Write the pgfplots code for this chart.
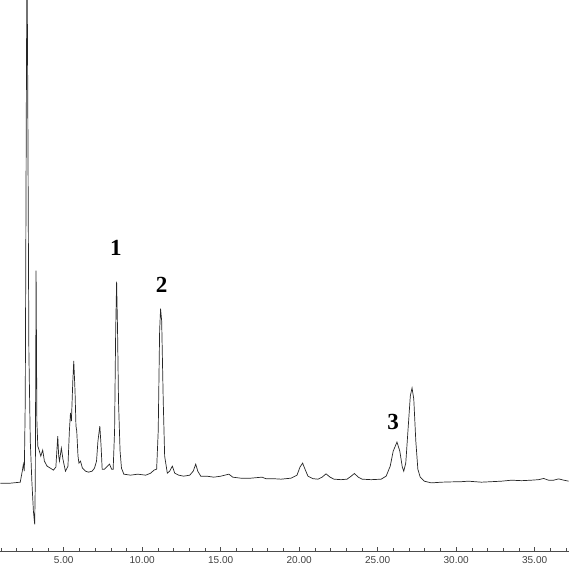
\documentclass[border=0pt]{standalone}
\usepackage{pgfplots}
\pgfplotsset{compat=1.18}
\usepackage{fontspec}
\setmainfont{Liberation Sans}
\newfontfamily\peakfont{Liberation Serif}

\begin{document}
\begin{tikzpicture}
\begin{axis}[
    width=567pt, height=550pt,
    scale only axis,
    xmin=0.96, xmax=37.17,
    ymin=0, ymax=550,
    axis x line=bottom,
    axis y line=none,
    x axis line style={-, black!70, line width=0.6pt},
    xtick={5,10,...,35},
    minor xtick={1,2,...,37},
    tick align=inside,
    major tick length=4pt,
    minor tick length=3pt,
    every tick/.style={black!70, line width=0.6pt},
    xticklabel style={font=\fontsize{10}{10}\selectfont, text=black!75, yshift=-2pt},
    x tick label style={/pgf/number format/fixed, /pgf/number format/fixed zerofill, /pgf/number format/precision=2},
    /pgf/number format/assume math mode=true,
]
\addplot[black!85, line width=0.7pt] coordinates {
    (0.96,68) (1.60,68) (2.23,69) (2.36,80) (2.43,87) (2.49,80)
    (2.55,150) (2.62,450) (2.66,610) (2.71,450) (2.78,200) (2.87,110)
    (2.97,70) (3.07,40) (3.15,27) (3.19,70) (3.24,280) (3.29,130)
    (3.35,105) (3.45,100) (3.54,95) (3.66,101) (3.77,90) (3.94,85)
    (4.15,83) (4.34,81) (4.50,84) (4.62,115) (4.68,95) (4.73,90)
    (4.85,103) (4.95,92) (5.11,80) (5.27,85) (5.36,120) (5.43,138)
    (5.49,130) (5.58,170) (5.64,190) (5.72,160) (5.78,125) (5.83,120)
    (5.91,95) (5.97,88) (6.07,90) (6.19,83) (6.39,80) (6.58,79)
    (6.81,80) (6.96,83) (7.09,90) (7.18,110) (7.30,125) (7.38,105)
    (7.45,82) (7.60,82) (7.79,85) (7.92,87) (8.05,82) (8.15,82)
    (8.24,120) (8.31,220) (8.37,269) (8.43,220) (8.49,150) (8.59,100)
    (8.68,83) (8.83,77) (9.26,76) (9.71,77) (10.22,76) (10.54,78)
    (10.75,81) (10.92,82) (11.02,120) (11.11,220) (11.17,242) (11.24,230)
    (11.34,150) (11.43,95) (11.60,78) (11.75,80) (11.92,85) (12.07,78)
    (12.33,76) (12.64,75) (13.03,76) (13.25,80) (13.41,87) (13.54,80)
    (13.73,75) (14.11,75) (14.56,74) (15.01,75) (15.52,77) (15.77,74)
    (16.28,73) (16.92,73) (17.63,74) (17.88,72.5) (18.33,72.5) (18.84,72)
    (19.48,73) (19.86,76) (20.05,84) (20.22,88) (20.37,82) (20.56,75)
    (20.88,72.5) (21.20,72) (21.46,74) (21.71,77.3) (21.97,74) (22.22,72)
    (22.67,71.5) (23.05,72) (23.31,75) (23.52,77.7) (23.76,74) (24.01,72)
    (24.59,71.5) (25.22,72) (25.54,75) (25.80,85) (25.99,100) (26.23,109)
    (26.41,100) (26.57,84) (26.66,80) (26.79,88) (26.95,125) (27.08,155)
    (27.19,163) (27.30,152) (27.43,110) (27.56,82) (27.71,74) (27.97,70)
    (28.42,68.3) (29.06,69) (29.70,69.3) (30.33,69.5) (30.78,70) (31.61,69)
    (32.25,69.5) (32.89,70) (33.53,71) (34.17,70.5) (34.80,71) (35.25,71.5)
    (35.57,72.7) (35.89,71) (36.21,71) (36.53,72.3) (36.85,71) (37.17,70)
};
\node[font=\peakfont\bfseries\fontsize{23}{23}\selectfont] at (axis cs:8.33,303) {1};
\node[font=\peakfont\bfseries\fontsize{23}{23}\selectfont] at (axis cs:11.24,266) {2};
\node[font=\peakfont\bfseries\fontsize{23}{23}\selectfont] at (axis cs:25.99,129) {3};
\end{axis}
\end{tikzpicture}
\end{document}
